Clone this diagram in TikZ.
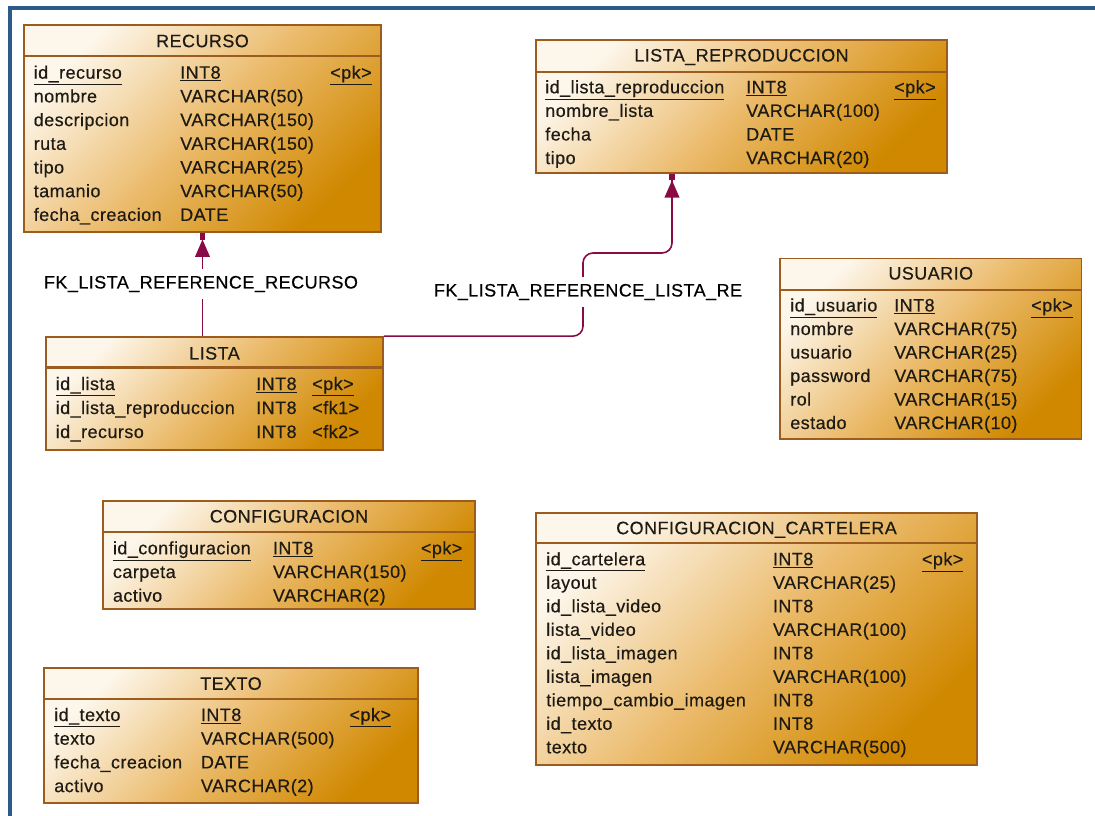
\documentclass[tikz,border=0pt]{standalone}
\usepackage{fontspec}
\setmainfont{Liberation Sans}[LetterSpace=2.5, FakeBold=0.4]
\usetikzlibrary{arrows.meta,fit}
\definecolor{frameblue}{HTML}{2D5B88}
\definecolor{boxedge}{HTML}{9C5C1E}
\definecolor{boxlight}{HTML}{FDF6EA}
\definecolor{boxmid}{HTML}{EBBB6C}
\definecolor{boxdark}{HTML}{D08800}
\definecolor{fkcol}{HTML}{8A0A48}
\definecolor{txt}{HTML}{1E1A14}
\newcommand\pku[1]{\underline{#1}}
\newcommand\ertable[8]{%
  \coordinate (#1-nw) at (#2,#3);
  \coordinate (#1-se) at (#4,#5);
  \node[tblbox, fit=(#1-nw)(#1-se)] (#1) {};
  \draw[hdrline] (#2,#6) -- (#4,#6);
  \node[ttl] (#1-t) at ({(#2+#4)/2},#7+6.5) {#8};
}
\newcommand\errow[8]{%
  \node[cell] (#1-n) at (#3,#2+6) {#6};
  \node[cell] (#1-y) at (#4,#2+6) {#7};
  \node[cell] (#1-p) at (#5,#2+6) {#8};
}
\begin{document}
\begin{tikzpicture}[x=0.75pt,y=-0.75pt,
  font=\fontsize{13.5}{16}\selectfont,
  tblbox/.style={draw=boxedge, line width=1.3pt, inner sep=0pt,
    top color=boxlight, bottom color=boxdark, middle color=boxmid, shading angle=45},
  hdrline/.style={draw=boxedge, line width=1.6pt},
  ttl/.style={anchor=base, inner sep=0pt, text=txt},
  cell/.style={anchor=base west, inner sep=0pt, text=txt},
  fk/.style={draw=fkcol, line width=1.2pt},
  fktip/.style={-{Triangle[length=13pt,width=11pt] Rectangle[length=5pt,width=4pt]}},
  lbl/.style={fill=white, inner xsep=1pt, inner ysep=5pt, text=black},
  frameline/.style={draw=frameblue, line width=3pt}]
\useasboundingbox (0,0) rectangle (1095,816);
\draw[frameline] (10,816) -- (10,8) -- (1095,8);

% RECURSO
\ertable{rec}{24}{25}{381}{232}{56}{40.7}{RECURSO}
\errow{rec1}{72.7}{33.5}{180}{330}{\pku{id\_recurso}}{\pku{INT8}}{\pku{<pk>}}
\errow{rec2}{96.4}{33.5}{180}{330}{nombre}{VARCHAR(50)}{}
\errow{rec3}{120.1}{33.5}{180}{330}{descripcion}{VARCHAR(150)}{}
\errow{rec4}{143.8}{33.5}{180}{330}{ruta}{VARCHAR(150)}{}
\errow{rec5}{167.5}{33.5}{180}{330}{tipo}{VARCHAR(25)}{}
\errow{rec6}{191.2}{33.5}{180}{330}{tamanio}{VARCHAR(50)}{}
\errow{rec7}{214.9}{33.5}{180}{330}{fecha\_creacion}{DATE}{}

% LISTA_REPRODUCCION
\ertable{lrep}{536}{40}{947}{172.7}{71.7}{55}{LISTA\_REPRODUCCION}
\errow{lrep1}{87.3}{545}{746}{894}{\pku{id\_lista\_reproduccion}}{\pku{INT8}}{\pku{<pk>}}
\errow{lrep2}{110.9}{545}{746}{894}{nombre\_lista}{VARCHAR(100)}{}
\errow{lrep3}{134.5}{545}{746}{894}{fecha}{DATE}{}
\errow{lrep4}{158.1}{545}{746}{894}{tipo}{VARCHAR(20)}{}

% USUARIO
\ertable{usu}{780}{258.5}{1081.5}{439}{290}{273}{USUARIO}
\errow{usu1}{305.5}{790}{894}{1031}{\pku{id\_usuario}}{\pku{INT8}}{\pku{<pk>}}
\errow{usu2}{329}{790}{894}{1031}{nombre}{VARCHAR(75)}{}
\errow{usu3}{352.5}{790}{894}{1031}{usuario}{VARCHAR(25)}{}
\errow{usu4}{376}{790}{894}{1031}{password}{VARCHAR(75)}{}
\errow{usu5}{399.5}{790}{894}{1031}{rol}{VARCHAR(15)}{}
\errow{usu6}{423}{790}{894}{1031}{estado}{VARCHAR(10)}{}

% LISTA
\ertable{lis}{46}{337}{383}{450}{367.5}{353}{LISTA}
\errow{lis1}{384}{55.5}{256}{312}{\pku{id\_lista}}{\pku{INT8}}{\pku{<pk>}}
\errow{lis2}{408}{55.5}{256}{312}{id\_lista\_reproduccion}{INT8}{<fk1>}
\errow{lis3}{432}{55.5}{256}{312}{id\_recurso}{INT8}{<fk2>}

% CONFIGURACION
\ertable{conf}{103}{500.7}{475}{609.3}{531.7}{516}{CONFIGURACION}
\errow{conf1}{548.3}{112.7}{272.7}{420.7}{\pku{id\_configuracion}}{\pku{INT8}}{\pku{<pk>}}
\errow{conf2}{572}{112.7}{272.7}{420.7}{carpeta}{VARCHAR(150)}{}
\errow{conf3}{595.7}{112.7}{272.7}{420.7}{activo}{VARCHAR(2)}{}

% CONFIGURACION_CARTELERA
\ertable{cart}{536}{512.7}{977}{765}{542.7}{527.7}{CONFIGURACION\_CARTELERA}
\errow{cart1}{559.3}{546}{772.7}{921.7}{\pku{id\_cartelera}}{\pku{INT8}}{\pku{<pk>}}
\errow{cart2}{582.8}{546}{772.7}{921.7}{layout}{VARCHAR(25)}{}
\errow{cart3}{606.3}{546}{772.7}{921.7}{id\_lista\_video}{INT8}{}
\errow{cart4}{629.8}{546}{772.7}{921.7}{lista\_video}{VARCHAR(100)}{}
\errow{cart5}{653.3}{546}{772.7}{921.7}{id\_lista\_imagen}{INT8}{}
\errow{cart6}{676.8}{546}{772.7}{921.7}{lista\_imagen}{VARCHAR(100)}{}
\errow{cart7}{700.3}{546}{772.7}{921.7}{tiempo\_cambio\_imagen}{INT8}{}
\errow{cart8}{723.8}{546}{772.7}{921.7}{id\_texto}{INT8}{}
\errow{cart9}{747.3}{546}{772.7}{921.7}{texto}{VARCHAR(500)}{}

% TEXTO
\ertable{tex}{44.3}{668.3}{417.7}{802.7}{699.3}{683.3}{TEXTO}
\errow{tex1}{715}{54}{200.7}{349.3}{\pku{id\_texto}}{\pku{INT8}}{\pku{<pk>}}
\errow{tex2}{738.7}{54}{200.7}{349.3}{texto}{VARCHAR(500)}{}
\errow{tex3}{762.4}{54}{200.7}{349.3}{fecha\_creacion}{DATE}{}
\errow{tex4}{786.1}{54}{200.7}{349.3}{activo}{VARCHAR(2)}{}

% connectors
\coordinate (k1) at (583,253);
\coordinate (k2) at (672,253);
\draw[fk, fktip] (lis.north -| rec.south) -- (rec.south);
\draw[fk, fktip, rounded corners=7.5pt] (lis.north east) -| (k1) -- (k2) -- (k2 |- lrep.south);
\node[lbl] (fk1) at (201,284) {FK\_LISTA\_REFERENCE\_RECURSO};
\node[lbl] (fk2) at (588,292) {FK\_LISTA\_REFERENCE\_LISTA\_RE};
\end{tikzpicture}
\end{document}
